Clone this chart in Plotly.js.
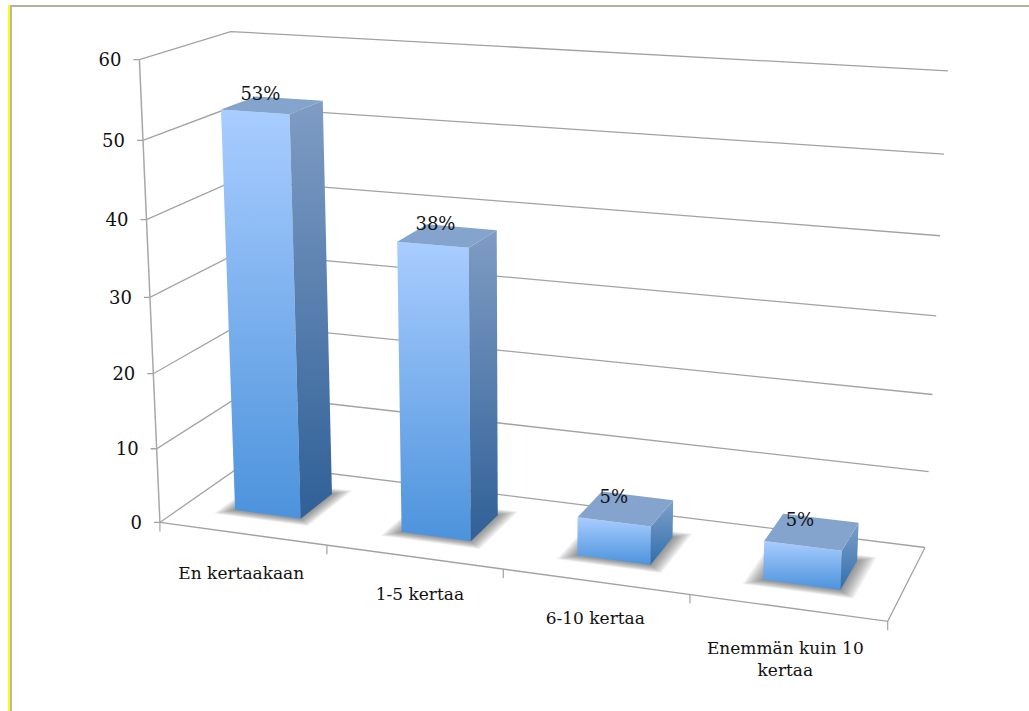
<!DOCTYPE html>
<html>
<head>
<meta charset="utf-8">
<script src="https://cdn.plot.ly/plotly-3.0.1.min.js"></script>
<style>html,body{margin:0;padding:0;background:#fff}#chart{width:1029px;height:711px}</style>
</head>
<body>
<div id="chart"></div>
<script>
// Chart content
const categories = ['En kertaakaan', '1-5 kertaa', '6-10 kertaa', 'Enemmän kuin 10<br>kertaa'];
const percentages = [53, 38, 5, 5];
const valueLabels = ['53%', '38%', '5%', '5%'];
const heightTicks = [0, 10, 20, 30, 40, 50, 60];

// Perspective camera: [category position, depth, height] -> screen pixel landmarks
const cameraAnchors = [
  [0, 0, 0, 161, 521], [1, 0, 0, 328, 548], [2, 0, 0, 503, 572], [3, 0, 0, 688, 595], [4, 0, 0, 888, 618],
  [0, 1, 0, 244, 461], [4, 1, 0, 926, 548],
  [0, 0, 60, 139, 58], [0, 1, 60, 231, 33], [4, 1, 60, 948, 71]
];
const HEIGHT_MAX = 60;

// Least-squares fit of a 3x4 projection matrix (last entry fixed to 1)
function fitCamera(anchors) {
  const n = 11;
  const A = Array.from({length: n}, () => new Array(n + 1).fill(0));
  const addRow = (r, b) => {
    for (let i = 0; i < n; i++) {
      for (let j = 0; j < n; j++) A[i][j] += r[i] * r[j];
      A[i][n] += r[i] * b;
    }
  };
  anchors.forEach(([u, w, h, px, py]) => {
    const H = h / HEIGHT_MAX, x = px / 1000, y = py / 1000;
    addRow([u, w, H, 1, 0, 0, 0, 0, -x * u, -x * w, -x * H], x);
    addRow([0, 0, 0, 0, u, w, H, 1, -y * u, -y * w, -y * H], y);
  });
  for (let c = 0; c < n; c++) {
    let p = c;
    for (let r = c + 1; r < n; r++) if (Math.abs(A[r][c]) > Math.abs(A[p][c])) p = r;
    [A[c], A[p]] = [A[p], A[c]];
    for (let r = 0; r < n; r++) {
      if (r === c) continue;
      const f = A[r][c] / A[c][c];
      for (let k = c; k <= n; k++) A[r][k] -= f * A[c][k];
    }
  }
  return A.map((row, i) => row[n] / row[i]);
}
const cam = fitCamera(cameraAnchors);
function project(u, w, h) {
  const H = h / HEIGHT_MAX;
  const d = cam[8] * u + cam[9] * w + cam[10] * H + 1;
  return [
    1000 * (cam[0] * u + cam[1] * w + cam[2] * H + cam[3]) / d,
    1000 * (cam[4] * u + cam[5] * w + cam[6] * H + cam[7]) / d
  ];
}

const traces = [];
const FONT = 'DejaVu Serif';
const LINE = '#a2a2a2';

function polyline(points, color, width) {
  traces.push({
    type: 'scatter', mode: 'lines', x: points.map(p => p[0]), y: points.map(p => p[1]),
    line: {color: color, width: width}, hoverinfo: 'skip', showlegend: false
  });
}
function face(points, fill) {
  const ring = points.concat([points[0]]);
  const t = {
    type: 'scatter', mode: 'none', x: ring.map(p => p[0]), y: ring.map(p => p[1]),
    fill: 'toself', hoverinfo: 'skip', showlegend: false
  };
  if (typeof fill === 'string') t.fillcolor = fill;
  else t.fillgradient = {type: 'vertical', colorscale: [[0, fill[1]], [1, fill[0]]]};
  traces.push(t);
}

// Walls: one gridline per height tick, running along the side wall and the back wall
heightTicks.forEach(h => {
  const a = project(0, 0, h);
  polyline([[a[0] - 6, a[1]], a, project(0, 1, h), project(4, 1, h)], LINE, 1.3);
});
// Vertical axis and floor edges
polyline([project(0, 0, 0), project(0, 0, HEIGHT_MAX)], '#a8a8a8', 1.5);
polyline([project(0, 0, 0), project(4, 0, 0), project(4, 1, 0)], LINE, 1.3);
categories.concat(['']).forEach((_, i) => {
  const p = project(i, 0, 0);
  polyline([p, [p[0], p[1] + 9]], LINE, 1.2);
});

// Bars with a soft floor shadow
const BAR_U = [0.3, 0.7];
const BAR_W = [0.3, 0.7];
percentages.forEach((v, i) => {
  const u0 = i + BAR_U[0], u1 = i + BAR_U[1], w0 = BAR_W[0], w1 = BAR_W[1];
  for (let k = 10; k >= 1; k--) {
    const du = 0.0085 * k, dw = 0.0085 * k;
    face([
      project(u0 - du, w0 - dw, 0), project(u1 + du, w0 - dw, 0),
      project(u1 + du, w1 + dw, 0), project(u0 - du, w1 + dw, 0)
    ], 'rgba(60,60,60,0.065)');
  }
  const big = v > 20;
  face([project(u0, w0, 0), project(u1, w0, 0), project(u1, w0, v), project(u0, w0, v)],
       ['#a9cdff', '#4c93dc']);
  face([project(u1, w0, 0), project(u1, w1, 0), project(u1, w1, v), project(u1, w0, v)],
       big ? ['#7f9cc4', '#2f6097'] : ['#7f9fc9', '#2f6fae']);
  face([project(u0, w0, v), project(u1, w0, v), project(u1, w1, v), project(u0, w1, v)], '#84a3cd');
});

// Text: height ticks, category names, value labels
traces.push({
  type: 'scatter', mode: 'text',
  x: heightTicks.map(h => project(0, 0, h)[0] - 18),
  y: heightTicks.map(h => project(0, 0, h)[1] + 2),
  text: heightTicks.map(String), textposition: 'middle left',
  textfont: {family: FONT, size: 18, color: '#111'}, hoverinfo: 'skip', showlegend: false
});
const categoryNudge = [[-1, 41], [6, 39], [0, 38], [-2, 53]];
traces.push({
  type: 'scatter', mode: 'text',
  x: categories.map((_, i) => project(i + 0.5, 0, 0)[0] + categoryNudge[i][0]),
  y: categories.map((_, i) => project(i + 0.5, 0, 0)[1] + categoryNudge[i][1]),
  text: categories, textposition: 'middle center',
  textfont: {family: FONT, size: 17, color: '#111'}, hoverinfo: 'skip', showlegend: false
});
traces.push({
  type: 'scatter', mode: 'text',
  x: percentages.map((v, i) => project(i + 0.5, 0.5, v)[0] - 12),
  y: percentages.map((v, i) => project(i + 0.5, 0.5, v)[1] - 10),
  text: valueLabels, textposition: 'middle center',
  textfont: {family: FONT, size: 18, color: '#111'}, hoverinfo: 'skip', showlegend: false
});

const pageShapes = [
  {type: 'rect', x0: 8, x1: 1029, y0: 5, y1: 7, fillcolor: '#b3b39c', line: {width: 0}, layer: 'above'},
  {type: 'rect', x0: 8, x1: 10, y0: 5, y1: 711, fillcolor: '#ffff00', line: {width: 0}, layer: 'above'},
  {type: 'rect', x0: 10, x1: 12, y0: 5, y1: 711, fillcolor: '#b5b5b5', line: {width: 0}, layer: 'above'},
  // The second category name is cut off along its lower edge
  {type: 'rect', x0: 360, x1: 480, y0: 600, y1: 612, fillcolor: '#ffffff', line: {width: 0}, layer: 'above'}
];

Plotly.newPlot('chart', traces, {
  width: 1029, height: 711,
  margin: {l: 0, r: 0, t: 0, b: 0},
  paper_bgcolor: '#ffffff', plot_bgcolor: '#ffffff',
  showlegend: false,
  xaxis: {range: [0, 1029], visible: false, fixedrange: true},
  yaxis: {range: [711, 0], visible: false, fixedrange: true},
  shapes: pageShapes
}, {displayModeBar: false, staticPlot: true});
</script>
</body>
</html>
